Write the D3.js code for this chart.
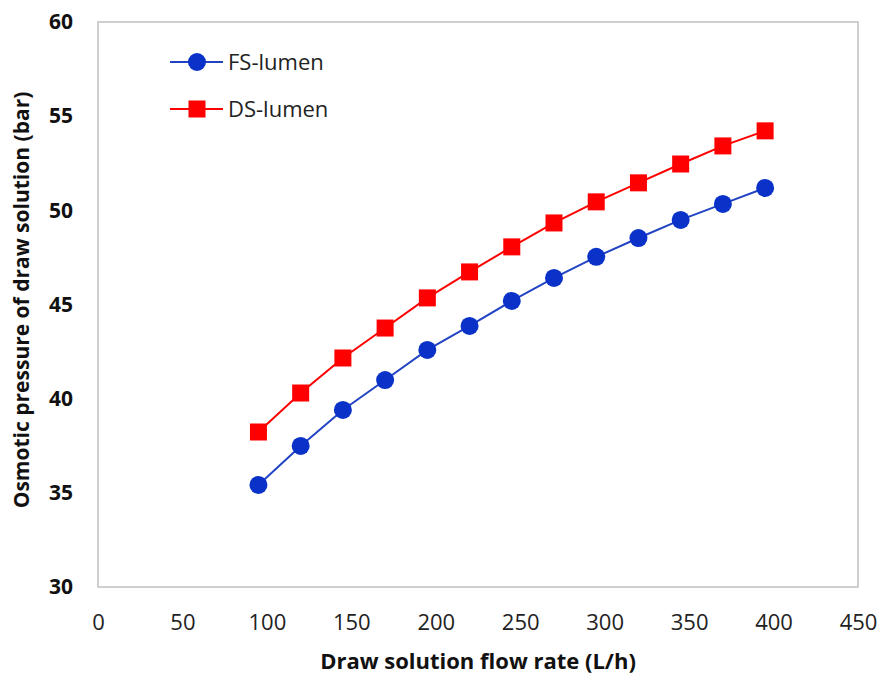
<!DOCTYPE html>
<html><head><meta charset="utf-8">
<script src="https://cdn.jsdelivr.net/npm/d3@7"></script>
<style>body{margin:0;background:#fff;} svg{display:block;}</style>
</head><body><svg id="c" width="880" height="674"></svg>
<script>
const flowRates = [95,120,145,170,195,220,245,270,295,320,345,370,395];
const fsLumen = [35.42,37.49,39.40,40.99,42.59,43.86,45.19,46.41,47.53,48.53,49.49,50.34,51.19];
const dsLumen = [38.23,40.30,42.16,43.75,45.35,46.73,48.06,49.33,50.45,51.46,52.46,53.42,54.22];
const xTicks = [0,50,100,150,200,250,300,350,400,450];
const yTicks = [30,35,40,45,50,55,60];
const seriesNames = ["FS-lumen","DS-lumen"];

const svg = d3.select("#c");
const L=98, R=858, T=22, B=587;
const x = d3.scaleLinear().domain([0,450]).range([L,R]);
const y = d3.scaleLinear().domain([30,60]).range([B,T]);
const font = "'Open Sans', 'Liberation Sans', sans-serif";

svg.append("rect").attr("x",L).attr("y",T).attr("width",R-L).attr("height",B-T)
  .attr("fill","none").attr("stroke","#c0c0c0").attr("stroke-width",1.5);

const xa = svg.append("g").attr("transform",`translate(0,${B})`)
  .call(d3.axisBottom(x).tickValues(xTicks).tickSize(0).tickPadding(27));
xa.select(".domain").remove();
xa.selectAll("text").attr("font-family",font).attr("font-size",22).attr("fill","#222");

const ya = svg.append("g").attr("transform",`translate(${L},0)`)
  .call(d3.axisLeft(y).tickValues(yTicks).tickSize(0).tickPadding(25));
ya.select(".domain").remove();
ya.selectAll("text").attr("font-family",font).attr("font-size",21).attr("font-weight","bold").attr("fill","#111");

svg.append("text").attr("x",478).attr("y",669).attr("text-anchor","middle")
  .attr("font-family",font).attr("font-size",22).attr("font-weight","bold").attr("fill","#111")
  .text("Draw solution flow rate (L/h)");
svg.append("text").attr("transform",`translate(29,${300}) rotate(-90)`).attr("text-anchor","middle")
  .attr("font-family",font).attr("font-size",21).attr("font-weight","bold").attr("fill","#111")
  .text("Osmotic pressure of draw solution (bar)");

const line = d3.line().x((d,i)=>x(flowRates[i])).y(d=>y(d));
const blue="#0a32c8", blueLine="#2244c4", red="#ff0000";

svg.append("path").datum(fsLumen).attr("d",line).attr("fill","none").attr("stroke",blueLine).attr("stroke-width",2);
svg.append("path").datum(dsLumen).attr("d",line).attr("fill","none").attr("stroke",red).attr("stroke-width",2);

svg.selectAll("circle.fs").data(fsLumen).enter().append("circle")
  .attr("cx",(d,i)=>x(flowRates[i])).attr("cy",d=>y(d)).attr("r",9).attr("fill",blue);
const s=17;
svg.selectAll("rect.ds").data(dsLumen).enter().append("rect")
  .attr("x",(d,i)=>x(flowRates[i])-s/2).attr("y",d=>y(d)-s/2).attr("width",s).attr("height",s).attr("fill",red);

// legend
const lg = svg.append("g");
const ly=[62,109];
lg.append("line").attr("x1",170).attr("x2",223).attr("y1",ly[0]).attr("y2",ly[0]).attr("stroke",blueLine).attr("stroke-width",2);
lg.append("circle").attr("cx",197).attr("cy",ly[0]).attr("r",9).attr("fill",blue);
lg.append("line").attr("x1",170).attr("x2",223).attr("y1",ly[1]).attr("y2",ly[1]).attr("stroke",red).attr("stroke-width",2);
lg.append("rect").attr("x",197-s/2).attr("y",ly[1]-s/2).attr("width",s).attr("height",s).attr("fill",red);
seriesNames.forEach((n,i)=>{
  lg.append("text").attr("x",228).attr("y",ly[i]+8).attr("font-family",font).attr("font-size",22).attr("fill","#222").text(n);
});
</script></body></html>
